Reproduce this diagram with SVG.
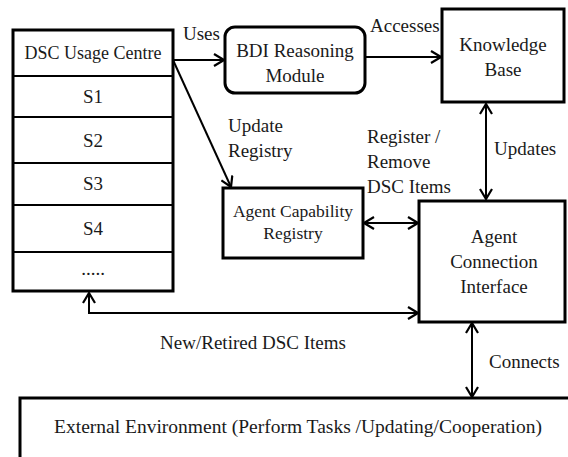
<svg xmlns="http://www.w3.org/2000/svg" width="568" height="457" viewBox="0 0 568 457" font-family="'Liberation Serif', 'Times New Roman', Times, 'DejaVu Serif', 'Noto Serif', serif">
  <style>
    .box { fill: #ffffff; stroke: #000000; stroke-width: 3; }
    .div { stroke: #000000; stroke-width: 2; fill: none; }
    .conn { stroke: #000000; stroke-width: 2; fill: none; }
    text { font-family: 'Liberation Serif', 'Times New Roman', Times, 'DejaVu Serif', serif; font-size: 19px; fill: #1a1a1a; }
    .mid { text-anchor: middle; }
    .sm { font-size: 17.5px; }
  </style>
  <defs>
    <marker id="arrow" viewBox="0 0 12 14" refX="11" refY="7" markerWidth="12" markerHeight="14" markerUnits="userSpaceOnUse" orient="auto-start-reverse">
      <path d="M1,1 L11,7 L1,13" fill="none" stroke="#000000" stroke-width="2.2"/>
    </marker>
  </defs>

  <!-- DSC Usage Centre with its service slots -->
  <g id="dsc-usage-centre">
    <rect class="box" x="13" y="30" width="160" height="261"/>
    <line class="div" x1="13" y1="76" x2="173" y2="76"/>
    <line class="div" x1="13" y1="117" x2="173" y2="117"/>
    <line class="div" x1="13" y1="163" x2="173" y2="163"/>
    <line class="div" x1="13" y1="205" x2="173" y2="205"/>
    <line class="div" x1="13" y1="252" x2="173" y2="252"/>
    <text class="mid" x="93" y="59" style="font-size:18px">DSC Usage Centre</text>
    <text class="mid" x="93" y="103">S1</text>
    <text class="mid" x="93" y="147">S2</text>
    <text class="mid" x="93" y="190">S3</text>
    <text class="mid" x="93" y="235">S4</text>
    <text class="mid" x="93" y="275">.....</text>
  </g>

  <g id="bdi-reasoning-module">
    <rect class="box" x="225" y="27" width="140" height="66" rx="10" ry="10"/>
    <text class="mid" x="295" y="57">BDI Reasoning</text>
    <text class="mid" x="295" y="82">Module</text>
  </g>

  <g id="knowledge-base">
    <rect class="box" x="442" y="9" width="122" height="93"/>
    <text class="mid" x="503" y="51">Knowledge</text>
    <text class="mid" x="503" y="76">Base</text>
  </g>

  <g id="agent-capability-registry">
    <rect class="box" x="223" y="188" width="140" height="70"/>
    <text class="mid sm" x="293" y="217">Agent Capability</text>
    <text class="mid sm" x="293" y="239">Registry</text>
  </g>

  <g id="agent-connection-interface">
    <rect class="box" x="419" y="201" width="146" height="121"/>
    <text class="mid" x="494" y="243">Agent</text>
    <text class="mid" x="494" y="268">Connection</text>
    <text class="mid" x="494" y="293">Interface</text>
  </g>

  <g id="external-environment">
    <rect class="box" x="20" y="398" width="570" height="80"/>
    <text class="mid" x="298" y="433" style="font-size:19.5px">External Environment (Perform Tasks /Updating/Cooperation)</text>
  </g>

  <!-- Connectors -->
  <g id="connectors">
    <path class="conn" d="M173,60 H224" marker-end="url(#arrow)"/>
    <path class="conn" d="M365,57 H441" marker-end="url(#arrow)"/>
    <path class="conn" d="M173,60 L231,187" marker-end="url(#arrow)"/>
    <path class="conn" d="M486,104 V199" marker-start="url(#arrow)" marker-end="url(#arrow)"/>
    <path class="conn" d="M364,223 H418" marker-start="url(#arrow)" marker-end="url(#arrow)"/>
    <path class="conn" d="M89,293 V313 H418" marker-start="url(#arrow)" marker-end="url(#arrow)"/>
    <path class="conn" d="M472,323 V397" marker-start="url(#arrow)" marker-end="url(#arrow)"/>
  </g>

  <!-- Connector labels -->
  <g id="labels">
    <text x="183" y="40">Uses</text>
    <text x="370" y="32">Accesses</text>
    <text x="228" y="132">Update</text>
    <text x="228" y="157">Registry</text>
    <text x="367" y="143">Register /</text>
    <text x="367" y="168">Remove</text>
    <text x="367" y="193">DSC Items</text>
    <text x="494" y="155">Updates</text>
    <text class="mid" x="253" y="349">New/Retired DSC Items</text>
    <text x="489" y="368">Connects</text>
  </g>
</svg>
